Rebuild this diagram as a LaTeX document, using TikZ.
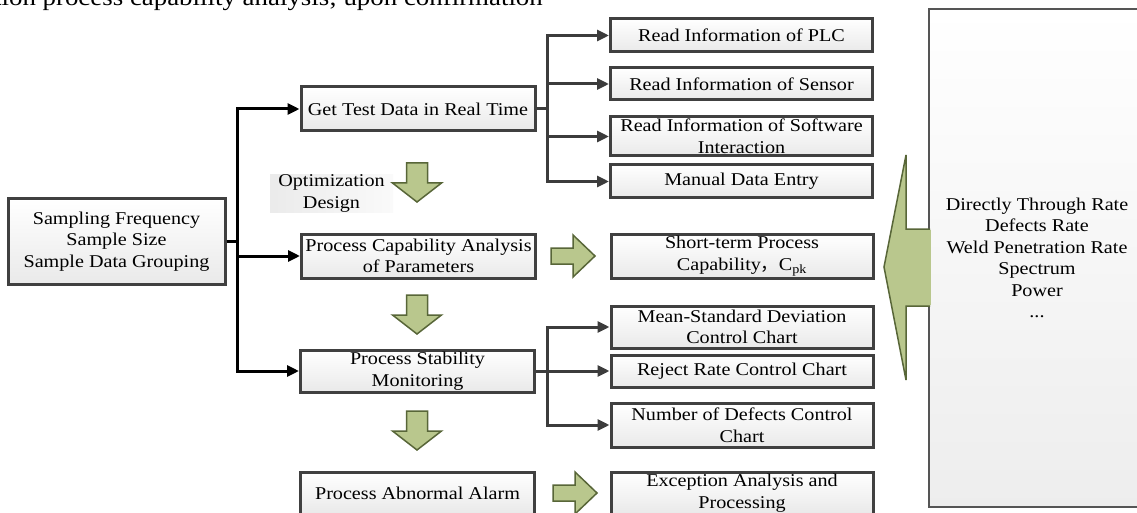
\documentclass[tikz,border=0pt]{standalone}
\usepackage{fontspec}
\setmainfont{Liberation Serif}[FakeStretch=1.12]
\newfontfamily\cjk{Noto Sans CJK SC}
\usetikzlibrary{arrows.meta,shadings}
\definecolor{boxline}{HTML}{404040}
\definecolor{branchline}{HTML}{3C3C3C}
\definecolor{arrowfill}{RGB}{185,199,141}
\definecolor{arrowline}{RGB}{88,102,56}
\definecolor{panelline}{HTML}{555555}

\begin{document}
\begin{tikzpicture}[x=1pt,y=-1pt,
  txt/.style={font=\fontsize{18}{21.5}\selectfont, align=center},
  stepbox/.style={txt, draw=boxline, line width=3pt, top color=white,
    bottom color=gray!17, inner sep=1pt},
  widebox/.style={stepbox, minimum width=234pt},
  sidebox/.style={stepbox, minimum width=262pt},
  trunk/.style={line width=3pt, black, -{Triangle[length=12pt,width=11pt]}},
  branch/.style={line width=3pt, branchline, -{Triangle[length=12pt,width=11pt]}},
  blockarrow/.style={fill=arrowfill, draw=arrowline, line width=1.5pt, line join=miter},
  downarrow/.pic={\draw[blockarrow] (-10.5,0) -- (10.5,0) -- (10.5,20) -- (24.5,20)
      -- (0,39) -- (-24.5,20) -- (-10.5,20) -- cycle;},
  rightarrow/.pic={\draw[blockarrow] (0,-8) -- (22,-8) -- (22,-21) -- (44,0)
      -- (22,21) -- (22,8) -- (0,8) -- cycle;},
]
\useasboundingbox (0,0) rectangle (1137,513);
\clip (0,0) rectangle (1137,513);

% running text of the page above the figure
\node[anchor=base east, inner sep=0pt, font=\fontsize{24}{29}\selectfont] (pageline)
  at (543,6) {tion process capability analysis; upon confirmation};

% sampling settings
\node[stepbox, minimum width=217pt, minimum height=85pt] (sampling) at (116.5,241.5)
  {Sampling Frequency\\Sample Size\\Sample Data Grouping};

% main column
\node[widebox, minimum height=44pt] (gettest) at (418,109) {Get Test Data in Real Time};
\node[widebox, minimum height=44pt] (capab) at (418.5,256) {Process Capability Analysis\\of Parameters};
\node[widebox, minimum height=42pt] (stab) at (417.5,371) {Process Stability\\Monitoring};
\node[widebox, minimum height=42pt] (alarm) at (417.5,493) {Process Abnormal Alarm};

\node[txt, minimum width=123pt, minimum height=37pt, inner sep=0pt,
  left color=gray!16, right color=gray!4] (optim) at (331.5,193.5) {Optimization\\Design};

% data sources
\node[sidebox, minimum height=33pt] (plc) at (741.5,35.5) {Read Information of PLC};
\node[sidebox, minimum height=32pt] (sensor) at (741.5,84) {Read Information of Sensor};
\node[sidebox, minimum height=39pt] (software) at (741.5,136.5) {Read Information of Software\\Interaction};
\node[sidebox, minimum height=33pt] (manual) at (741.5,181.5) {Manual Data Entry};

% results
\node[sidebox, minimum height=44pt] (shortterm) at (742,256)
  {Short-term Process\\Capability{\cjk ，}C\textsubscript{pk}};
\node[sidebox, minimum height=42pt] (meanstd) at (742,327) {Mean-Standard Deviation\\Control Chart};
\node[sidebox, minimum height=32pt] (reject) at (742,371) {Reject Rate Control Chart};
\node[sidebox, minimum height=44pt] (defects) at (742,425) {Number of Defects Control\\Chart};
\node[sidebox, minimum height=42pt] (exception) at (742,493) {Exception Analysis and\\Processing};

% quality parameters panel, open towards the right edge
\shade[top color=white, bottom color=gray!14] (929,9) rectangle (1137,507);
\draw[draw=panelline, line width=1.3pt] (1137,9) -- (929,9) -- (929,507) -- (1137,507);
\node[txt] (params) at (1037,258)
  {Directly Through Rate\\Defects Rate\\Weld Penetration Rate\\Spectrum\\Power\\...};
\draw[blockarrow] (930,229) -- (906,229) -- (906,155) -- (884,267) -- (906,380)
  -- (906,306) -- (930,306);
\fill[arrowfill] (929,230) rectangle (931,305);

% connectors from the sampling settings
\draw[trunk] (sampling.east) -- ++(11,0) |- (gettest.west);
\draw[trunk] (sampling.east) -- ++(11,0) |- (capab.west);
\draw[trunk] (sampling.east) -- ++(11,0) |- (stab.west);

% connectors to the data sources
\draw[branch] (gettest.east) -- ++(11,0) |- (plc.west);
\draw[branch] (gettest.east) -- ++(11,0) |- (sensor.west);
\draw[branch] (gettest.east) -- ++(11,0) |- (software.west);
\draw[branch] (gettest.east) -- ++(11,0) |- (manual.west);

% connectors to the control charts
\draw[branch] (stab.east) -- ++(11,0) |- (meanstd.west);
\draw[branch] (stab.east) -- ++(11,0) |- (reject.west);
\draw[branch] (stab.east) -- ++(11,0) |- (defects.west);

% block arrows of the flow
\pic at (417,163) {downarrow};
\pic at (417,295) {downarrow};
\pic at (417,411) {downarrow};
\pic at (551,256) {rightarrow};
\pic at (553,493) {rightarrow};
\end{tikzpicture}
\end{document}
